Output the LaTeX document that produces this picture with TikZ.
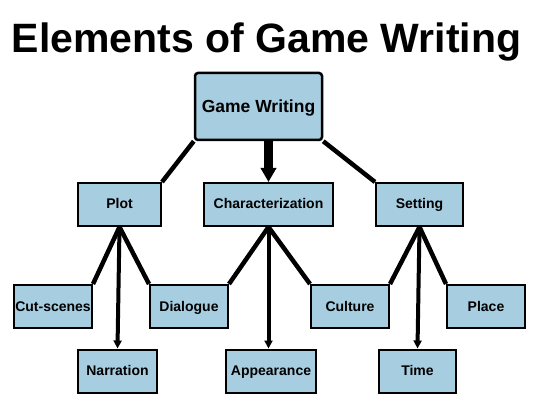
\documentclass[tikz,border=0pt]{standalone}
\usepackage{fontspec}
\setmainfont{Liberation Sans}
\usetikzlibrary{positioning,arrows.meta}
\definecolor{BoxBlue}{HTML}{A6CDE0}

\begin{document}
\begin{tikzpicture}[x=1pt, y=-1pt, node distance=41pt, every node/.style={font=\bfseries\fontsize{14}{16}\selectfont}]
    \tikzstyle{box}=[draw=black, fill=BoxBlue, line width=2pt, inner sep=0pt, minimum height=43pt, text height=10pt, text depth=1pt]
    \tikzstyle{link}=[line width=4.5pt]
    \useasboundingbox (0,0) rectangle (540,403);
    \node[font=\bfseries\fontsize{41}{45}\selectfont, anchor=base] (title) at (266.5,53) {Elements of Game Writing};
    \node[box, rounded corners=3pt, line width=2.5pt, minimum width=127pt, minimum height=67pt, text height=13pt, font=\bfseries\fontsize{17.5}{20}\selectfont] (gw) at (258.5,106.5) {Game Writing};
    \node[box, minimum width=83pt] (plot) at (119.5,204.5) {Plot};
    \node[box, minimum width=129pt, right=of plot] (char) {Characterization};
    \node[box, minimum width=87pt, right=of char] (set) {Setting};
    \node[box, minimum width=78pt] (cut) at (53,306.5) {Cut-scenes};
    \node[box, minimum width=78pt] (dia) at (189,306.5) {Dialogue};
    \node[box, minimum width=78pt] (cul) at (350,306.5) {Culture};
    \node[box, minimum width=78pt] (place) at (486,306.5) {Place};
    \node[box, minimum width=79pt] (nar) at (117.5,371) {Narration};
    \node[box, minimum width=90pt] (app) at (271,371) {Appearance};
    \node[box, minimum width=77pt] (time) at (417.5,371) {Time};
    \draw[link] (gw.south west) -- (plot.north east);
    \draw[line width=9pt, -{Triangle[length=14pt,width=15pt]}] (char.north |- gw.south) -- (char.north);
    \draw[link] (gw.south east) -- (set.north west);
    \draw[link] (plot.south) -- (cut.north east);
    \draw[link] (plot.south) -- (dia.north west);
    \draw[line width=4pt, -{Triangle[length=8pt,width=8pt]}] (plot.south) -- (nar.north);
    \draw[link] (char.south) -- (dia.north east);
    \draw[link] (char.south) -- (cul.north west);
    \draw[line width=4pt, -{Triangle[length=8pt,width=8pt]}] (char.south) -- (char.south |- app.north);
    \draw[link] (set.south) -- (cul.north east);
    \draw[link] (set.south) -- (place.north west);
    \draw[line width=4pt, -{Triangle[length=8pt,width=8pt]}] (set.south) -- (time.north);
  \end{tikzpicture}
\end{document}
